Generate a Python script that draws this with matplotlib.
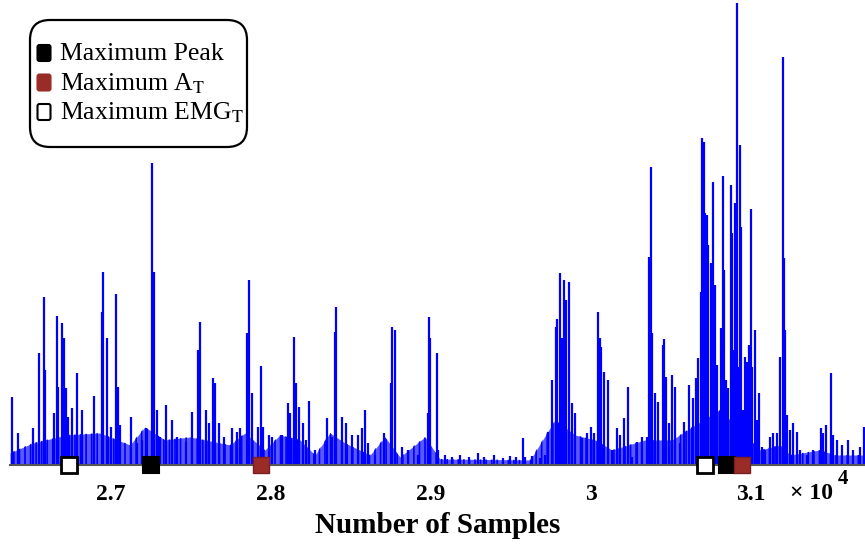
import matplotlib
matplotlib.use('Agg')
import matplotlib.pyplot as plt
from matplotlib.patches import FancyBboxPatch

plt.rcParams['font.family'] = ['Liberation Serif', 'DejaVu Serif']
plt.rcParams['mathtext.fontset'] = 'stix'
plt.rcParams['hatch.linewidth'] = 1.2
plt.rcParams['hatch.color'] = '#0000ff'

# spikes: sample index and amplitude (a.u.)
peak_samples = [
    26381, 26419, 26512, 26550, 26581, 26587, 26644, 26662, 26669, 26694,
    26706, 26719, 26731, 26756, 26787, 26819, 26894, 26944, 26950, 26975,
    27000, 27031, 27044, 27056, 27125, 27162, 27194, 27219,
    27256, 27269, 27287, 27306, 27344, 27381, 27412, 27469, 27506, 27544,
    27556, 27594, 27612, 27637, 27650, 27675, 27706, 27756, 27787, 27806,
    27850, 27862, 27881, 27919, 27937, 27950, 27987, 28006, 28069, 28106,
    28119, 28144, 28156, 28175, 28200, 28219, 28237, 28275, 28350, 28381,
    28400, 28406, 28444, 28469, 28506, 28544, 28569, 28587, 28606, 28650,
    28706, 28750, 28756, 28775, 28819, 28856, 28919,
    28981, 28987, 28994, 29037, 29044, 29087, 29131, 29181, 29237, 29294,
    29331, 29394, 29450, 29494, 29531, 29575, 29587, 29631, 29681, 29712,
    29731, 29756, 29781, 29787, 29806, 29819, 29831, 29844, 29862, 29881,
    29900, 29944, 29975, 30000, 30019, 30044, 30056, 30062, 30081, 30106,
    30131, 30162, 30181, 30206, 30231, 30256, 30287, 30319, 30350, 30362,
    30375, 30381, 30400, 30419, 30450, 30456, 30469, 30487, 30506, 30525,
    30556, 30581, 30612, 30637, 30656, 30669, 30687, 30694, 30706, 30712,
    30725, 30731, 30750, 30762, 30775, 30787, 30812, 30825, 30831, 30844,
    30856, 30875, 30881, 30894, 30900, 30912, 30919, 30931, 30937, 30950,
    30962, 30975, 30987, 31000, 31006, 31025, 31037, 31050, 31069, 31087,
    31119, 31137, 31162, 31181, 31200, 31206, 31212, 31225, 31244, 31262,
    31287, 31306, 31350, 31387, 31437, 31450, 31469, 31500, 31512, 31537,
    31569, 31606, 31637, 31681, 31706,
]
peak_heights = [
    68, 32, 37, 112, 168, 95, 52, 149, 78, 142,
    127, 77, 48, 57, 92, 55, 69, 153, 193, 127,
    38, 171, 78, 40, 48, 22, 25, 37,
    302, 193, 55, 28, 60, 45, 28, 23, 53, 115,
    143, 55, 42, 87, 82, 42, 28, 37, 33, 37,
    132, 185, 72, 38, 99, 38, 30, 28, 30, 62,
    52, 128, 82, 58, 42, 25, 64, 15, 47, 28,
    133, 158, 48, 42, 30, 30, 37, 55, 22, 10,
    32, 82, 138, 135, 18, 15, 10,
    52, 148, 127, 112, 15, 10, 8, 10, 8, 12,
    8, 10, 7, 9, 8, 27, 8, 9, 7, 10,
    33, 85, 138, 146, 192, 127, 185, 165, 183, 62,
    52, 27, 32, 38, 32, 153, 127, 118, 93, 85,
    15, 37, 30, 47, 78, 8, 23, 28, 28, 208,
    298, 132, 72, 63, 120, 126, 88, 42, 90, 78,
    22, 43, 80, 67, 87, 107, 173, 327, 323, 252,
    250, 220, 202, 283, 180, 100, 137, 289, 195, 85,
    77, 280, 232, 115, 262, 462, 98, 320, 238, 55,
    108, 103, 120, 256, 98, 135, 45, 72, 18, 15,
    28, 32, 32, 108, 408, 207, 135, 50, 35, 42,
    33, 15, 10, 15, 37, 32, 40, 92, 30, 25,
    20, 25, 15, 18, 38,
]

# dense low-level activity between the spikes
floor_samples = [
    26369, 26512, 26725, 26931, 27119, 27212, 27337, 27494, 27744, 27837,
    27962, 28056, 28181, 28275, 28369, 28462, 28619, 28712, 28806, 28962,
    29056, 29619, 29775, 29900, 30025, 30131, 30337, 30506, 30650, 30806,
    31056, 31181, 31244, 31431, 31525, 31712,
]
floor_levels = [
    12, 22, 30, 32, 20, 38, 25, 28, 20, 32,
    15, 30, 25, 10, 32, 22, 10, 28, 8, 28,
    6, 5, 45, 30, 25, 15, 25, 25, 40, 55,
    15, 20, 10, 15, 10, 10,
]

peak_marks = [27248, 30848]
at_marks = [27940, 30946]
emg_marks = [26737, 30712]

x_ticks = [27000, 28000, 29000, 30000, 31000]
x_tick_labels = ['2.7', '2.8', '2.9', '3', '3.1']

fig = plt.figure(figsize=(8.65, 5.46), dpi=100)
ax = fig.add_axes([10 / 865, 81 / 546, 855 / 865, 465 / 546])

ax.fill_between(floor_samples, 0, floor_levels, color='#0000ff', alpha=0.65, lw=0)
ax.fill_between(floor_samples, 0, floor_levels, facecolor='none', edgecolor='#0000ff',
                hatch='|||', lw=0)
ax.vlines(peak_samples, 0, peak_heights, color='#0000ff', lw=1.6)

ms = 11.5
ax.plot(emg_marks, [0, 0], 's', ms=ms, mfc='white', mec='black', mew=2, clip_on=False, zorder=5)
ax.plot(peak_marks, [0, 0], 's', ms=ms, mfc='black', mec='black', mew=1.5, clip_on=False, zorder=5)
ax.plot(at_marks, [0, 0], 's', ms=ms, mfc='#9a2c28', mec='#7a2020', mew=1, clip_on=False, zorder=6)

ax.set_xlim(26369, 31712)
ax.set_ylim(0, 465)
ax.set_yticks([])
ax.set_xticks(x_ticks)
ax.set_xticklabels(x_tick_labels, fontsize=17, fontweight='bold')
ax.tick_params(axis='x', length=0, pad=14)
for s in ['top', 'right', 'left']:
    ax.spines[s].set_visible(False)
ax.spines['bottom'].set_color('#555555')
ax.spines['bottom'].set_linewidth(1.5)
ax.set_xlabel('Number of Samples', fontsize=21, fontweight='bold', labelpad=5)

fig.text(790 / 865, 1 - 499 / 546, '× 10', fontsize=17, fontweight='bold', va='baseline')
fig.text(838 / 865, 1 - 484 / 546, '4', fontsize=15, fontweight='bold', va='baseline')

# legend drawn by hand to get the rounded box
lg = fig.add_axes([0, 0, 1, 1])
lg.set_xlim(0, 865)
lg.set_ylim(546, 0)
lg.axis('off')
r = 20
lg.add_patch(FancyBboxPatch((30 + r, 20 + r), 217 - 2 * r, 127 - 2 * r,
                            boxstyle=f'round,pad={r}', fc='white', ec='black', lw=1.6))
labels = ['Maximum Peak', r'Maximum A$_{\mathrm{T}}$', r'Maximum EMG$_{\mathrm{T}}$']
faces = ['black', '#9a2c28', 'white']
for i, (lab, fc) in enumerate(zip(labels, faces)):
    y = 53 + i * 29.5
    lg.add_patch(FancyBboxPatch((39.5, y - 6), 9, 12, boxstyle='round,pad=2',
                                fc=fc, ec='black' if fc != '#9a2c28' else '#9a2c28', lw=1.5))
    lg.text(60, y + 1, lab, fontsize=18.5, va='center', ha='left', color='black')

fig.savefig('out.png', dpi=100)
